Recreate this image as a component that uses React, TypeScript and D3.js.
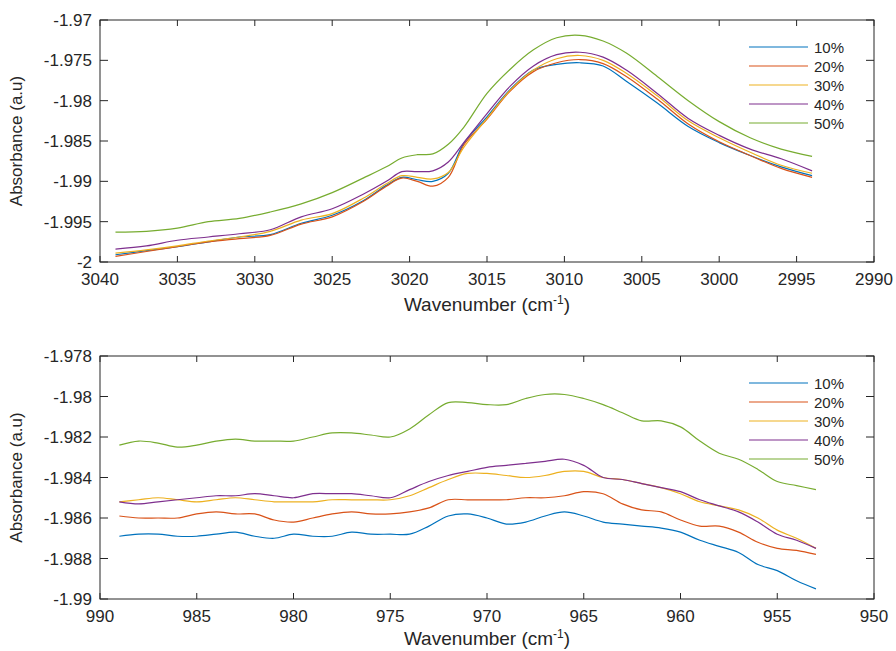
import React from 'react';
import * as d3 from 'd3';

// top panel: C-H stretch region
const topWave = [3039, 3037, 3035, 3033, 3031, 3029, 3027, 3025, 3023, 3021.5, 3020.5, 3019.5, 3018.5, 3017.5, 3016.5, 3015, 3013.5, 3012, 3010.5, 3009, 3007.5, 3006, 3004, 3002, 3000, 2998, 2996, 2994];
const top10 = [-1.9991, -1.9986, -1.9981, -1.9975, -1.9969, -1.9966, -1.9952, -1.9942, -1.9924, -1.9905, -1.9895, -1.9898, -1.99, -1.989, -1.9853, -1.982, -1.9786, -1.9762, -1.9755, -1.9753, -1.9757, -1.9776, -1.9803, -1.9832, -1.9852, -1.9868, -1.9882, -1.9893];
const top20 = [-1.9993, -1.9987, -1.9981, -1.9975, -1.9971, -1.9967, -1.9953, -1.9944, -1.9925, -1.9906, -1.9896, -1.99, -1.9906, -1.9895, -1.9855, -1.9823, -1.9788, -1.9764, -1.9753, -1.9749, -1.9754, -1.977, -1.9798, -1.9829, -1.9851, -1.9868, -1.9884, -1.9895];
const top30 = [-1.9989, -1.9985, -1.998, -1.9974, -1.9969, -1.9962, -1.9948, -1.994, -1.9921, -1.9903, -1.9893, -1.9895, -1.9897, -1.9889, -1.9858, -1.9822, -1.9787, -1.9762, -1.9748, -1.9744, -1.975, -1.9766, -1.9794, -1.9825, -1.9846, -1.9864, -1.988, -1.989];
const top40 = [-1.9984, -1.998, -1.9973, -1.9969, -1.9965, -1.996, -1.9944, -1.9934, -1.9916, -1.99, -1.9888, -1.9888, -1.9887, -1.9876, -1.9852, -1.9816, -1.9782, -1.9757, -1.9743, -1.974, -1.9746, -1.9762, -1.9791, -1.9822, -1.9843, -1.986, -1.9872, -1.9887];
const top50 = [-1.9963, -1.9962, -1.9958, -1.995, -1.9946, -1.9938, -1.9928, -1.9914, -1.9896, -1.9882, -1.9871, -1.9867, -1.9866, -1.9854, -1.9833, -1.9791, -1.9761, -1.9737, -1.9722, -1.9719, -1.9726, -1.9741, -1.977, -1.98, -1.9826, -1.9846, -1.986, -1.9869];

// bottom panel: 950-990 region
const botWave = [989, 988, 987, 986, 985, 984, 983, 982, 981, 980, 979, 978, 977, 976, 975, 974, 973, 972, 971, 970, 969, 968, 967, 966, 965, 964, 963, 962, 961, 960, 959, 958, 957, 956, 955, 954, 953];
const bot10 = [-1.9869, -1.9868, -1.9868, -1.9869, -1.9869, -1.9868, -1.9867, -1.9869, -1.987, -1.9868, -1.9869, -1.9869, -1.9867, -1.9868, -1.9868, -1.9868, -1.9864, -1.9859, -1.9858, -1.986, -1.9863, -1.9862, -1.9859, -1.9857, -1.9859, -1.9862, -1.9863, -1.9864, -1.9865, -1.9867, -1.9871, -1.9874, -1.9877, -1.9883, -1.9886, -1.9891, -1.9895];
const bot20 = [-1.9859, -1.986, -1.986, -1.986, -1.9858, -1.9857, -1.9858, -1.9858, -1.9861, -1.9862, -1.986, -1.9858, -1.9857, -1.9858, -1.9858, -1.9857, -1.9855, -1.9851, -1.9851, -1.9851, -1.9851, -1.985, -1.985, -1.9849, -1.9847, -1.9848, -1.9853, -1.9856, -1.9857, -1.9861, -1.9864, -1.9864, -1.9867, -1.9872, -1.9875, -1.9876, -1.9878];
const bot30 = [-1.9852, -1.9851, -1.985, -1.9851, -1.9852, -1.9851, -1.985, -1.9851, -1.9852, -1.9852, -1.9852, -1.9851, -1.9851, -1.9851, -1.9851, -1.9849, -1.9845, -1.9841, -1.9838, -1.9838, -1.9839, -1.984, -1.9839, -1.9837, -1.9837, -1.984, -1.9841, -1.9843, -1.9845, -1.9848, -1.9852, -1.9854, -1.9856, -1.986, -1.9866, -1.987, -1.9875];
const bot40 = [-1.9852, -1.9853, -1.9852, -1.9851, -1.985, -1.9849, -1.9849, -1.9848, -1.9849, -1.985, -1.9848, -1.9848, -1.9848, -1.9849, -1.985, -1.9846, -1.9842, -1.9839, -1.9837, -1.9835, -1.9834, -1.9833, -1.9832, -1.9831, -1.9834, -1.984, -1.9841, -1.9843, -1.9845, -1.9847, -1.9851, -1.9854, -1.9857, -1.9862, -1.9868, -1.9871, -1.9875];
const bot50 = [-1.9824, -1.9822, -1.9823, -1.9825, -1.9824, -1.9822, -1.9821, -1.9822, -1.9822, -1.9822, -1.982, -1.9818, -1.9818, -1.9819, -1.982, -1.9816, -1.9809, -1.9803, -1.9803, -1.9804, -1.9804, -1.9801, -1.9799, -1.9799, -1.9801, -1.9804, -1.9808, -1.9812, -1.9812, -1.9815, -1.9822, -1.9828, -1.9831, -1.9836, -1.9842, -1.9844, -1.9846];

const seriesNames = ['10%', '20%', '30%', '40%', '50%'];
const colors = ['#0072BD', '#D95319', '#EDB120', '#7E2F8E', '#77AC30'];

const topXTicks = [3040, 3035, 3030, 3025, 3020, 3015, 3010, 3005, 3000, 2995, 2990];
const topYTicks = [-2, -1.995, -1.99, -1.985, -1.98, -1.975, -1.97];
const botXTicks = [990, 985, 980, 975, 970, 965, 960, 955, 950];
const botYTicks = [-1.99, -1.988, -1.986, -1.984, -1.982, -1.98, -1.978];

const FONT = '"Liberation Sans", Arial, sans-serif';
const AX = '#262626';

const fmt = (v) => String(+v.toFixed(3));

function Panel({ top, bottom, left, right, xDomain, yDomain, xTicks, yTicks, xs, series, labelGap }) {
  const x = d3.scaleLinear().domain(xDomain).range([left, right]);
  const y = d3.scaleLinear().domain(yDomain).range([bottom, top]);
  const line = d3.line().x(d => x(d[0])).y(d => y(d[1])).curve(d3.curveCatmullRom);
  const tx = 6, ty = 8;
  return (
    <g>
      {series.map((s, i) => (
        <path key={i} d={line(xs.map((w, j) => [w, s[j]]))} fill="none" stroke={colors[i]} strokeWidth={1.2} />
      ))}
      <rect x={left} y={top} width={right - left} height={bottom - top} fill="none" stroke={AX} strokeWidth={1} />
      {xTicks.map(t => (
        <g key={'x' + t}>
          <line x1={x(t)} x2={x(t)} y1={bottom} y2={bottom - tx} stroke={AX} />
          <line x1={x(t)} x2={x(t)} y1={top} y2={top + tx} stroke={AX} />
          <text x={x(t)} y={bottom + 23} textAnchor="middle" fontSize={17} fill={AX} fontFamily={FONT}>{t}</text>
        </g>
      ))}
      {yTicks.map(t => (
        <g key={'y' + t}>
          <line x1={left} x2={left + ty} y1={y(t)} y2={y(t)} stroke={AX} />
          <line x1={right} x2={right - ty} y1={y(t)} y2={y(t)} stroke={AX} />
          <text x={left - 8} y={y(t) + 6} textAnchor="end" fontSize={17} fill={AX} fontFamily={FONT}>{fmt(t)}</text>
        </g>
      ))}
      <text x={(left + right) / 2} y={bottom + labelGap} textAnchor="middle" fontSize={19} fill={AX} fontFamily={FONT}>
        Wavenumber (cm<tspan dy={-7} fontSize={12}>-1</tspan><tspan dy={7}>)</tspan>
      </text>
      <text transform={`translate(${left - 78},${(top + bottom) / 2}) rotate(-90)`} textAnchor="middle" fontSize={17} fill={AX} fontFamily={FONT}>
        Absorbance (a.u)
      </text>
      {seriesNames.map((n, i) => (
        <g key={n}>
          <line x1={749} x2={808} y1={top + 27 + i * 19} y2={top + 27 + i * 19} stroke={colors[i]} strokeWidth={1.2} />
          <text x={814} y={top + 27 + i * 19 + 5.5} fontSize={15} fill={AX} fontFamily={FONT}>{n}</text>
        </g>
      ))}
    </g>
  );
}

export default function App() {
  return (
    <svg width={896} height={651} style={{ position: 'absolute', left: 0, top: 0, background: '#fff' }}>
      <Panel top={20} bottom={262} left={100} right={874} xDomain={[3040, 2990]} yDomain={[-2, -1.97]} labelGap={49}
        xTicks={topXTicks} yTicks={topYTicks} xs={topWave} series={[top10, top20, top30, top40, top50]} />
      <Panel top={356} bottom={599} left={100} right={874} xDomain={[990, 950]} yDomain={[-1.99, -1.978]} labelGap={46}
        xTicks={botXTicks} yTicks={botYTicks} xs={botWave} series={[bot10, bot20, bot30, bot40, bot50]} />
    </svg>
  );
}
